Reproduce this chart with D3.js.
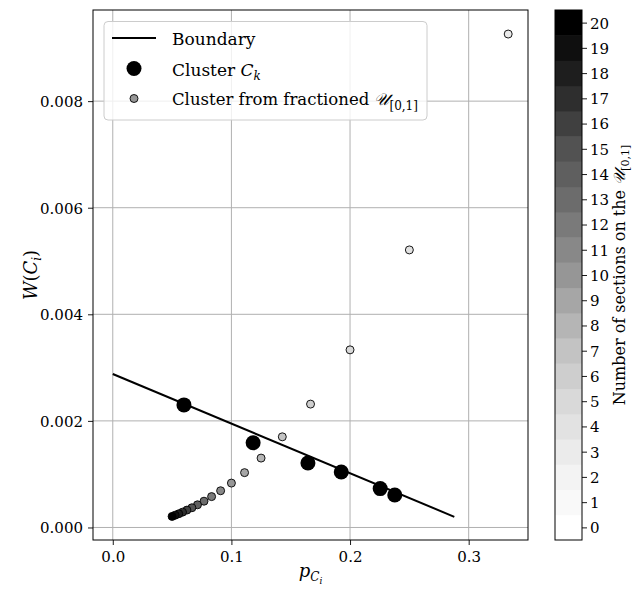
<!DOCTYPE html>
<html>
<head>
<meta charset="utf-8">
<script src="https://cdn.jsdelivr.net/npm/d3@7"></script>
<style>
  body { margin: 0; background: #fff; }
  svg text { font-family: "DejaVu Serif", serif; fill: #000; }
</style>
</head>
<body>
<div id="chart"></div>
<script>
// boundary line end points (p, W)
const boundaryP = [0.0, 0.2879];
const boundaryW = [0.00288, 0.00020];

// clusters C_k
const clusterP = [0.0600, 0.1183, 0.1645, 0.1926, 0.2254, 0.2377];
const clusterW = [0.00230, 0.00159, 0.00121, 0.00104, 0.00073, 0.00061];

// clusters from fractioned U[0,1], n sections
const sections = [3, 4, 5, 6, 7, 8, 9, 10, 11, 12, 13, 14, 15, 16, 17, 18, 19, 20];
const fracP = [0.3333, 0.2500, 0.2000, 0.1667, 0.1429, 0.1250, 0.1111, 0.1000, 0.0909,
               0.0833, 0.0769, 0.0714, 0.0667, 0.0625, 0.0588, 0.0556, 0.0526, 0.0500];
const fracW = [0.009259, 0.005208, 0.003333, 0.002315, 0.001701, 0.001302, 0.001029, 0.000833, 0.000689,
               0.000579, 0.000493, 0.000425, 0.000370, 0.000326, 0.000288, 0.000257, 0.000231, 0.000208];

const xTicks = [0.0, 0.1, 0.2, 0.3];
const yTicks = [0.000, 0.002, 0.004, 0.006, 0.008];
const cbLevels = d3.range(0, 21);

const width = 632, height = 595;
const plot = { left: 93, right: 528, top: 10, bottom: 540 };
const cb = { left: 555, right: 582, top: 10, bottom: 540 };
const serif = '"DejaVu Serif", serif';

// matplotlib "Greys"
const greyStops = ['#ffffff', '#f0f0f0', '#d9d9d9', '#bdbdbd', '#969696', '#737373', '#525252', '#252525', '#000000'];
const greys = d3.scaleLinear().domain(d3.range(9).map(i => i / 8)).range(greyStops).interpolate(d3.interpolateRgb);
const colorOf = n => greys(n / 20);

const svg = d3.select('#chart').append('svg')
  .attr('width', width)
  .attr('height', height);

const x = d3.scaleLinear().domain([-0.016667, 0.35]).range([plot.left, plot.right]);
const y = d3.scaleLinear().domain([-0.000235, 0.00971]).range([plot.bottom, plot.top]);

// grid
const grid = svg.append('g');
grid.selectAll('.gx').data(xTicks).enter().append('line')
  .attr('x1', d => x(d)).attr('x2', d => x(d))
  .attr('y1', plot.top).attr('y2', plot.bottom)
  .attr('stroke', '#b0b0b0').attr('stroke-width', 1);
grid.selectAll('.gy').data(yTicks).enter().append('line')
  .attr('x1', plot.left).attr('x2', plot.right)
  .attr('y1', d => y(d)).attr('y2', d => y(d))
  .attr('stroke', '#b0b0b0').attr('stroke-width', 1);

// axes
const xAxis = svg.append('g')
  .attr('transform', `translate(0,${plot.bottom})`)
  .call(d3.axisBottom(x).tickValues(xTicks).tickFormat(d3.format('.1f')).tickSize(5).tickPadding(6));
const yAxis = svg.append('g')
  .attr('transform', `translate(${plot.left},0)`)
  .call(d3.axisLeft(y).tickValues(yTicks).tickFormat(d3.format('.3f')).tickSize(5).tickPadding(5));
[xAxis, yAxis].forEach(a => {
  a.select('.domain').remove();
  a.selectAll('line').attr('stroke', '#000').attr('stroke-width', 0.9);
  a.selectAll('text').attr('font-family', null).style('font-family', serif).style('font-size', '15px');
});
xAxis.selectAll('text').attr('dy', '0.72em');
yAxis.selectAll('text').attr('dy', '0.36em');

// plot frame
svg.append('rect')
  .attr('x', plot.left).attr('y', plot.top)
  .attr('width', plot.right - plot.left).attr('height', plot.bottom - plot.top)
  .attr('fill', 'none').attr('stroke', '#000').attr('stroke-width', 1);

// boundary line
const line = d3.line().x(d => x(d[0])).y(d => y(d[1]));
svg.append('path')
  .datum(d3.zip(boundaryP, boundaryW))
  .attr('d', line)
  .attr('fill', 'none').attr('stroke', '#000').attr('stroke-width', 2);

// fractioned points
svg.append('g').selectAll('circle')
  .data(d3.zip(fracP, fracW, sections))
  .enter().append('circle')
  .attr('cx', d => x(d[0])).attr('cy', d => y(d[1]))
  .attr('r', 4)
  .attr('fill', d => colorOf(d[2]))
  .attr('stroke', '#000').attr('stroke-width', 0.9);

// clusters
svg.append('g').selectAll('circle')
  .data(d3.zip(clusterP, clusterW))
  .enter().append('circle')
  .attr('cx', d => x(d[0])).attr('cy', d => y(d[1]))
  .attr('r', 7.5)
  .attr('fill', '#000');

// axis labels
svg.append('text')
  .attr('x', (plot.left + plot.right) / 2).attr('y', 577)
  .attr('text-anchor', 'middle')
  .style('font-size', '18px')
  .html('<tspan font-style="italic">p</tspan><tspan font-style="italic" font-size="12px" dy="4">C</tspan><tspan font-style="italic" font-size="9px" dy="3">i</tspan>');

svg.append('text')
  .attr('transform', `translate(37,${(plot.top + plot.bottom) / 2}) rotate(-90)`)
  .attr('text-anchor', 'middle')
  .style('font-size', '18px')
  .html('<tspan font-style="italic">W</tspan>(<tspan font-style="italic">C</tspan><tspan font-style="italic" font-size="12px" dy="4">i</tspan><tspan dy="-4">)</tspan>');

// legend
const lg = svg.append('g');
lg.append('rect')
  .attr('x', 104).attr('y', 21.5).attr('width', 323).attr('height', 98.5)
  .attr('rx', 4)
  .attr('fill', 'rgba(255,255,255,0.8)')
  .attr('stroke', '#cccccc').attr('stroke-width', 1);
lg.append('line')
  .attr('x1', 112).attr('x2', 156).attr('y1', 38).attr('y2', 38)
  .attr('stroke', '#000').attr('stroke-width', 2);
lg.append('circle').attr('cx', 134).attr('cy', 68.5).attr('r', 7.5).attr('fill', '#000');
lg.append('circle').attr('cx', 134).attr('cy', 98.5).attr('r', 4)
  .attr('fill', colorOf(10)).attr('stroke', '#000').attr('stroke-width', 0.9);
lg.append('text').attr('x', 172).attr('y', 45).style('font-size', '17px').text('Boundary');
lg.append('text').attr('x', 172).attr('y', 76).style('font-size', '17px')
  .html('Cluster <tspan font-style="italic">C</tspan><tspan font-style="italic" font-size="12px" dy="4">k</tspan>');
lg.append('text').attr('x', 172).attr('y', 105).style('font-size', '16.5px')
  .html('Cluster from fractioned <tspan font-style="italic">𝒰</tspan><tspan font-size="12px" dy="5">[0,1]</tspan>');

// colorbar
const cy = d3.scaleLinear().domain([-0.5, 20.5]).range([cb.bottom, cb.top]);
const cbg = svg.append('g');
cbg.selectAll('rect').data(cbLevels).enter().append('rect')
  .attr('x', cb.left).attr('width', cb.right - cb.left)
  .attr('y', d => cy(d + 0.5)).attr('height', d => cy(d - 0.5) - cy(d + 0.5) + 0.5)
  .attr('fill', d => colorOf(d));
cbg.append('rect')
  .attr('x', cb.left).attr('y', cb.top)
  .attr('width', cb.right - cb.left).attr('height', cb.bottom - cb.top)
  .attr('fill', 'none').attr('stroke', '#000').attr('stroke-width', 1);
const cbAxis = svg.append('g')
  .attr('transform', `translate(${cb.right},0)`)
  .call(d3.axisRight(cy).tickValues(cbLevels).tickFormat(d3.format('d')).tickSize(5).tickPadding(3));
cbAxis.select('.domain').remove();
cbAxis.selectAll('line').attr('stroke', '#000').attr('stroke-width', 0.9);
cbAxis.selectAll('text').attr('font-family', null).style('font-family', serif).style('font-size', '15px').attr('dy', '0.36em');

svg.append('text')
  .attr('transform', `translate(625,${(cb.top + cb.bottom) / 2}) rotate(-90)`)
  .attr('text-anchor', 'middle')
  .style('font-size', '16px')
  .html('Number of sections on the <tspan font-style="italic">𝒰</tspan><tspan font-size="11px" dy="4">[0,1]</tspan>');
</script>
</body>
</html>
